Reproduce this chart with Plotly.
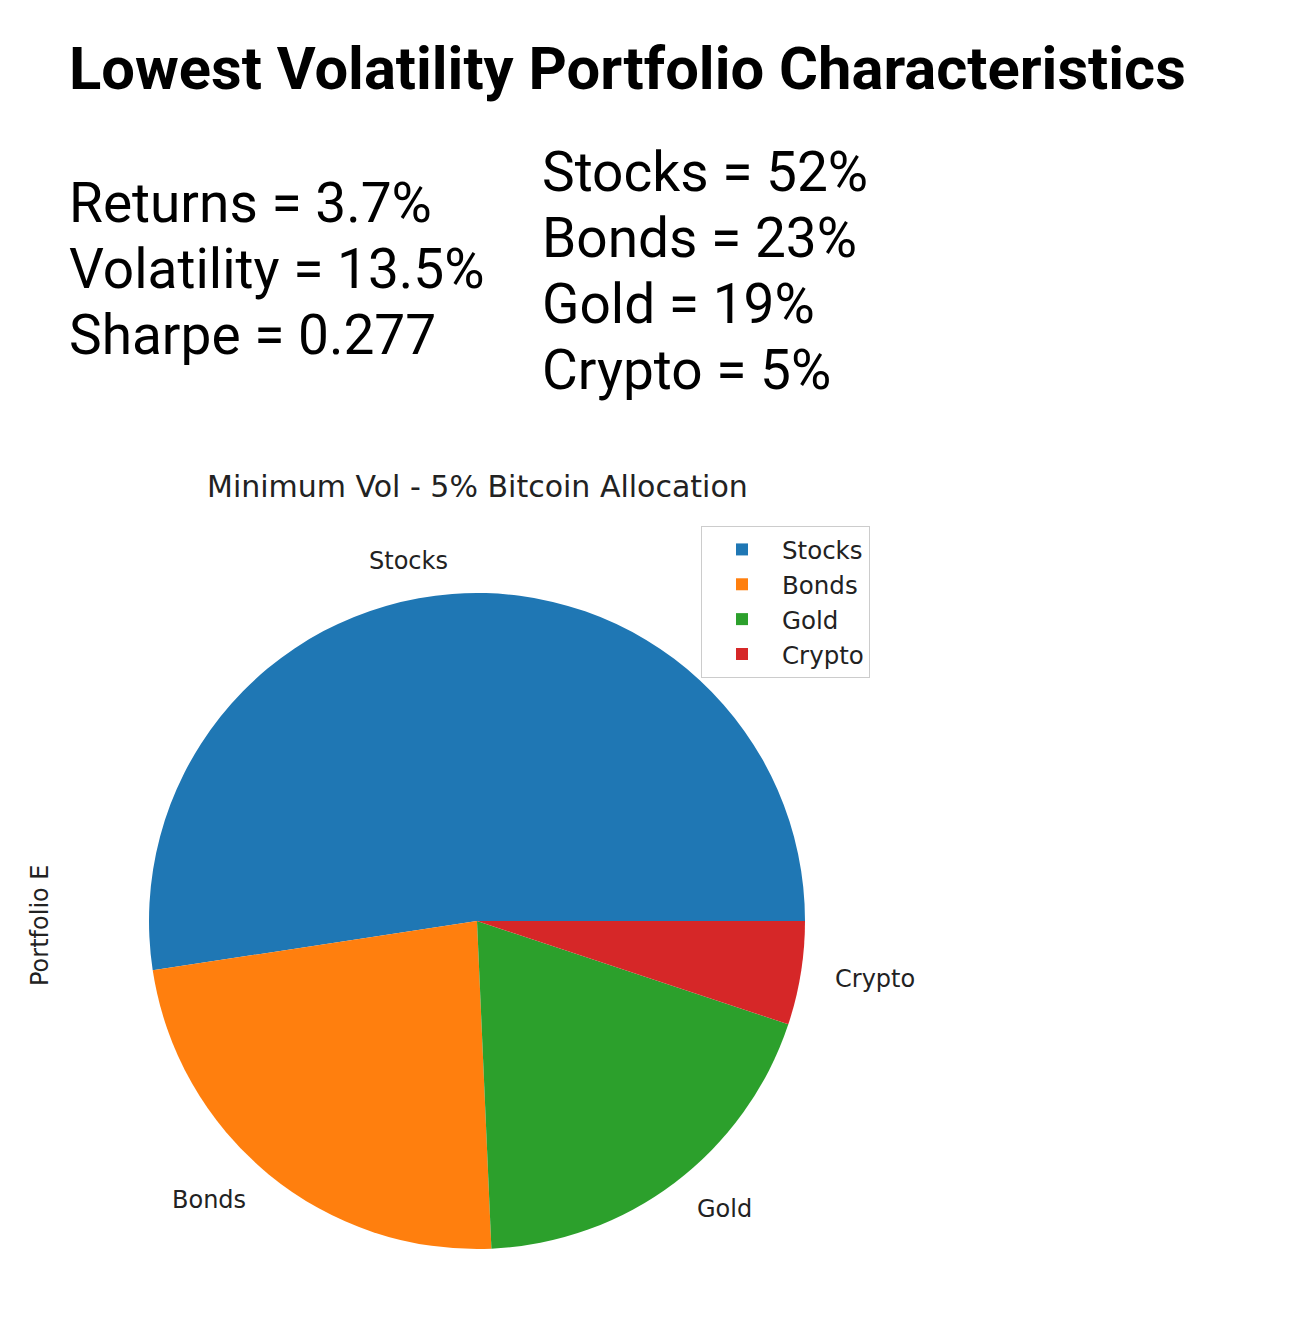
import numpy as np
import plotly.graph_objects as go

# ---- data ----
assets = ["Stocks", "Bonds", "Gold", "Crypto"]
weights = [52.4, 23.3, 19.2, 5.1]
colors = ["#1f77b4", "#ff7f0e", "#2ca02c", "#d62728"]
stat_names = ["Returns", "Volatility", "Sharpe"]
stat_values = ["3.7%", "13.5%", "0.277"]
main_title = "Lowest Volatility Portfolio Characteristics"
pie_title = "Minimum Vol - 5% Bitcoin Allocation"
ylabel = "Portfolio E"

OFF = 8                    # default page body margin
W, H = 1298 - OFF, 1327 - OFF
cx, cy, r = 477, 921, 328  # pie geometry (screen pixels)


def px(x):
    return (x - OFF) / W


def py(y):
    return 1 - (y - OFF) / H


vals = np.array(weights, dtype=float)
first_frac = vals[0] / vals.sum()

fig = go.Figure()
fig.add_trace(go.Pie(
    labels=assets, values=weights, sort=False,
    direction="counterclockwise", rotation=90 - 360 * first_frac,
    marker=dict(colors=colors, line=dict(width=0)),
    textinfo="none", hoverinfo="label+percent",
    domain=dict(x=[px(cx - r), px(cx + r)], y=[py(cy + r), py(cy - r)]),
))

ann = []
# main title
ann.append(dict(text="<b>" + main_title + "</b>", x=px(67), y=py(69), xanchor="left",
                yanchor="middle", showarrow=False,
                font=dict(family="Roboto", size=59.7, color="black")))
# stats (left column)
for i, (n, v) in enumerate(zip(stat_names, stat_values)):
    ann.append(dict(text=f"{n} = {v}", x=px(67), y=py(203 + 66 * i), xanchor="left",
                    yanchor="middle", showarrow=False,
                    font=dict(family="Roboto", size=55, color="black")))
# allocations (right column)
for i, (a, w) in enumerate(zip(assets, weights)):
    ann.append(dict(text=f"{a} = {round(w)}%", x=px(540), y=py(172 + 66 * i), xanchor="left",
                    yanchor="middle", showarrow=False,
                    font=dict(family="Roboto", size=55, color="black")))
# pie title
ann.append(dict(text=pie_title, x=px(cx), y=py(486), xanchor="center", yanchor="middle",
                showarrow=False, font=dict(family="DejaVu Sans", size=30, color="#222")))
# y label
ann.append(dict(text=ylabel, x=px(40), y=py(925), xanchor="center", yanchor="middle",
                textangle=-90, showarrow=False,
                font=dict(family="DejaVu Sans", size=24, color="#222")))
# slice labels (matplotlib style: at 1.1 r, mid-angle)
cum = np.concatenate([[0], np.cumsum(vals)]) / vals.sum() * 360.0
for i, name in enumerate(assets):
    mid = np.deg2rad((cum[i] + cum[i + 1]) / 2)
    lx = cx + 1.1 * r * np.cos(mid)
    ly = cy - 1.1 * r * np.sin(mid)
    ann.append(dict(text=name, x=px(lx), y=py(ly),
                    xanchor="left" if np.cos(mid) > 0 else "right", yanchor="middle",
                    showarrow=False, font=dict(family="DejaVu Sans", size=24, color="#222")))

fig.update_layout(
    width=W, height=H, margin=dict(l=0, r=0, t=0, b=0),
    paper_bgcolor="white", plot_bgcolor="white",
    annotations=ann,
    showlegend=True,
    legend=dict(x=px(701), y=py(526), xanchor="left", yanchor="top",
                bordercolor="#cccccc", borderwidth=1, bgcolor="white",
                itemwidth=70,
                font=dict(family="DejaVu Sans", size=24.5, color="#222")),
)

fig.write_html("out.html")
